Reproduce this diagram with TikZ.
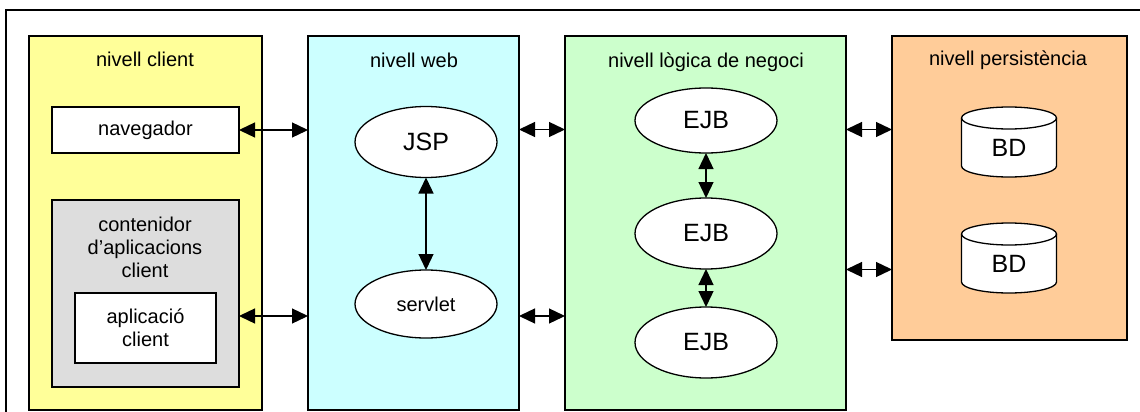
\documentclass[tikz,border=0pt]{standalone}
\usepackage{fontspec}
\setmainfont{Liberation Sans}
\usetikzlibrary{shapes.geometric,arrows.meta}
\definecolor{cyel}{HTML}{FFFF99}
\definecolor{ccyan}{HTML}{CCFFFF}
\definecolor{cgreen}{HTML}{CCFFCC}
\definecolor{corange}{HTML}{FFCC99}
\definecolor{cgrey}{HTML}{DDDDDD}
\begin{document}
\begin{tikzpicture}[x=1pt,y=-1pt,
  box/.style={draw, line width=1.3pt, inner sep=0pt, outer sep=0pt, anchor=north west},
  lbl/.style={font=\fontsize{20}{23}\selectfont, align=center, inner sep=0pt},
  bean/.style={ellipse, draw, fill=white, line width=1.3pt, inner sep=0pt, outer sep=0pt, minimum width=142pt},
  big/.style={font=\fontsize{25}{28}\selectfont},
  db/.style={rectangle, minimum width=95pt, minimum height=70pt, inner sep=0pt, outer sep=0pt},
  dbline/.style={draw, fill=white, line width=1.3pt},
  dbcap/.style={x radius=47.5pt, y radius=11pt},
  biarrow/.style={{Triangle[length=16pt,width=15pt]}-{Triangle[length=16pt,width=15pt]}, line width=1.3pt}]
\useasboundingbox[fill=white] (0,0) rectangle (1140,412);
% outer frame (cropped on right and bottom)
\draw[line width=1.3pt] (6,430) -- (6,10) -- (1160,10);

% client tier
\node[box, fill=cyel, minimum width=233pt, minimum height=374pt] (client) at (29,36) {};
\node[lbl] (clientlbl) at (145,59) {nivell client};
\node[box, fill=white, minimum width=187pt, minimum height=46pt] (nav) at (52,107) {};
\node[lbl] at (nav.center) {navegador};
\node[box, fill=cgrey, minimum width=187pt, minimum height=187pt] (cont) at (52,200) {};
\node[lbl] (contlbl) at (145,247) {contenidor\\d’aplicacions\\client};
\node[box, fill=white, minimum width=141pt, minimum height=70pt] (app) at (75,293) {};
\node[lbl] at (app.center) {aplicació\\client};

% web tier
\node[box, fill=ccyan, minimum width=211pt, minimum height=374pt] (web) at (308,36) {};
\node[lbl] (weblbl) at (414,60) {nivell web};
\node[bean, big, minimum height=71pt] (jsp) at (426,142) {JSP};
\node[bean, lbl, minimum height=68pt] (servlet) at (426,304) {servlet};

% business tier
\node[box, fill=cgreen, minimum width=281pt, minimum height=374pt] (logic) at (565,36) {};
\node[lbl] (logiclbl) at (706,62) {nivell lògica de negoci};
\node[bean, big, minimum height=65pt] (ejb1) at (706,120.5) {EJB};
\node[bean, big, minimum height=71pt] (ejb2) at (706,233.5) {EJB};
\node[bean, big, minimum height=71pt] (ejb3) at (706,342.5) {EJB};

% persistence tier
\node[box, fill=corange, minimum width=235pt, minimum height=304pt] (pers) at (892,36) {};
\node[lbl] (perslbl) at (1008,60) {nivell persistència};
\node[db] (bd1) at (1009,142) {};
\node[db] (bd2) at (1009,258) {};
\foreach \n in {bd1,bd2}{
  \path[dbline] ([yshift=-11pt]\n.north west) -- ([yshift=11pt]\n.south west)
     arc[start angle=180, end angle=360, dbcap] -- ([yshift=-11pt]\n.north east)
     arc[start angle=0, end angle=180, dbcap] -- cycle;
  \draw[line width=1.3pt] ([yshift=-11pt]\n.north west) arc[start angle=180, end angle=360, dbcap];
}
\node[big, inner sep=0pt] (bd1lbl) at (1009,148) {BD};
\node[big, inner sep=0pt] (bd2lbl) at (1009,264) {BD};

% connector heights
\coordinate (y1) at (0,129.5);
\coordinate (y2) at (0,316);
\coordinate (y3) at (0,269.5);

\draw[biarrow] (nav.east) -- (nav.east -| web.west);
\draw[biarrow] (cont.east |- y2) -- (web.west |- y2);
\draw[biarrow] (web.east |- y1) -- (logic.west |- y1);
\draw[biarrow] (web.east |- y2) -- (logic.west |- y2);
\draw[biarrow] (logic.east |- y1) -- (pers.west |- y1);
\draw[biarrow] (logic.east |- y3) -- (pers.west |- y3);
\draw[biarrow] (jsp.south) -- (servlet.north);
\draw[biarrow] (ejb1.south) -- (ejb2.north);
\draw[biarrow] (ejb2.south) -- (ejb3.north);
\end{tikzpicture}
\end{document}
